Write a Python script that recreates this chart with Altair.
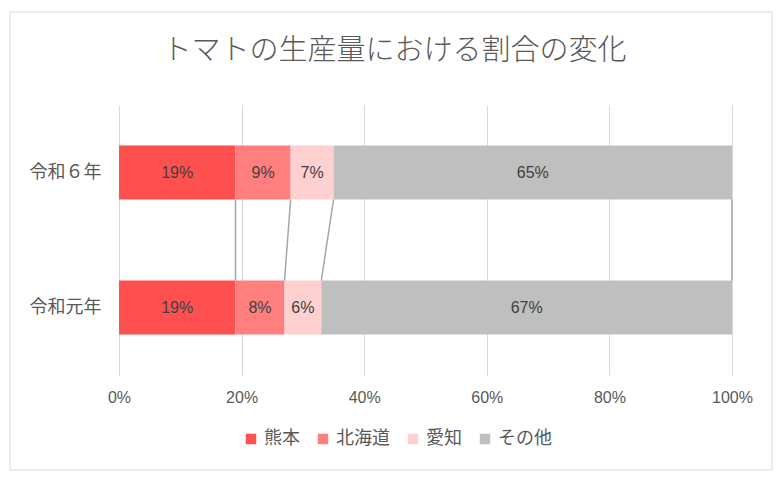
import altair as alt
import pandas as pd

categories = ["令和６年", "令和元年"]
series = ["熊本", "北海道", "愛知", "その他"]
values_r6 = [19, 9, 7, 65]
values_r1 = [19, 8, 6, 67]
colors = ["#FF5050", "#FF7F7F", "#FFD0D0", "#BFBFBF"]
x_ticks = [0, 0.2, 0.4, 0.6, 0.8, 1.0]

FONT = "Noto Sans CJK JP"
NUMFONT = "Liberation Sans, Noto Sans CJK JP"

rows = []
for ci, (cat, vals) in enumerate([(categories[0], values_r6), (categories[1], values_r1)]):
    ypos = 1 - ci
    cum = 0
    for si, (s, v) in enumerate(zip(series, vals)):
        rows.append({"cat": cat, "ypos": ypos, "series": s, "order": si,
                     "start": cum / 100, "end": (cum + v) / 100,
                     "mid": (cum + v / 2) / 100, "label": f"{v}%"})
        cum += v
df = pd.DataFrame(rows)

# connector lines between cumulative boundaries
conn = []
c6 = 0
c1 = 0
for s, a, b in zip(series, values_r6, values_r1):
    c6 += a
    c1 += b
    conn.append({"series": s, "top": c6 / 100, "bot": c1 / 100, "y_top": 1 - 0.2, "y_bot": 0 + 0.2})
dconn = pd.DataFrame(conn)

yscale = alt.Scale(domain=[-0.5, 1.5], padding=0, nice=False, zero=False)
xscale = alt.Scale(domain=[0, 1], padding=0, nice=False)

bars = alt.Chart(df).mark_bar(size=54).encode(
    x=alt.X("start:Q", scale=xscale,
            axis=alt.Axis(format="%", values=x_ticks, grid=True, gridColor="#D9D9D9",
                          domain=False, ticks=False, labelFont=NUMFONT, labelFontSize=16,
                          labelFlush=False, labelColor="#595959", labelPadding=14, title=None)),
    x2="end:Q",
    y=alt.Y("ypos:Q", scale=yscale,
            axis=alt.Axis(values=[0, 1], grid=False, domain=False, ticks=False,
                          labelExpr="datum.value == 1 ? '令和６年' : '令和元年'",
                          labelFont=FONT, labelFontSize=18, labelColor="#595959",
                          labelPadding=18, title=None)),
    color=alt.Color("series:N", scale=alt.Scale(domain=series, range=colors),
                    legend=alt.Legend(orient="none", direction="horizontal",
                                      legendX=123, legendY=325, title=None,
                                      symbolType="square", symbolSize=110,
                                      labelFont=FONT, labelFontSize=18,
                                      labelColor="#595959", columnPadding=14,
                                      labelOffset=4, symbolStrokeWidth=0)),
    order="order:Q",
)

labels = alt.Chart(df).mark_text(font=NUMFONT, fontSize=16, color="#404040").encode(
    x=alt.X("mid:Q", scale=xscale),
    y=alt.Y("ypos:Q", scale=yscale),
    text="label:N",
)

lines = alt.Chart(dconn).mark_rule(color="#A6A6A6", strokeWidth=1.5).encode(
    x=alt.X("top:Q", scale=xscale),
    x2="bot:Q",
    y=alt.Y("y_top:Q", scale=yscale),
    y2="y_bot:Q",
)

border = alt.Chart(pd.DataFrame({"a": [0]})).mark_rect(
    fill="transparent", stroke="#D9D9D9", strokeWidth=1, clip=False
).encode(
    x=alt.value(-109), x2=alt.value(653), y=alt.value(-93), y2=alt.value(365)
)

chart = alt.layer(border, bars, lines, labels).properties(
    width=613, height=270,
    title=alt.TitleParams("トマトの生産量における割合の変化", font=FONT, fontSize=29,
                          fontWeight=300, color="#595959", anchor="middle",
                          frame="group", dx=-31, offset=-54),
    autosize=alt.AutoSizeParams(type="none"),
    padding={"left": 119, "top": 105, "right": 52, "bottom": 103},
    background="white",
).configure_view(stroke=None)

chart.save("out.html", embed_options={"renderer": "svg", "actions": False})
